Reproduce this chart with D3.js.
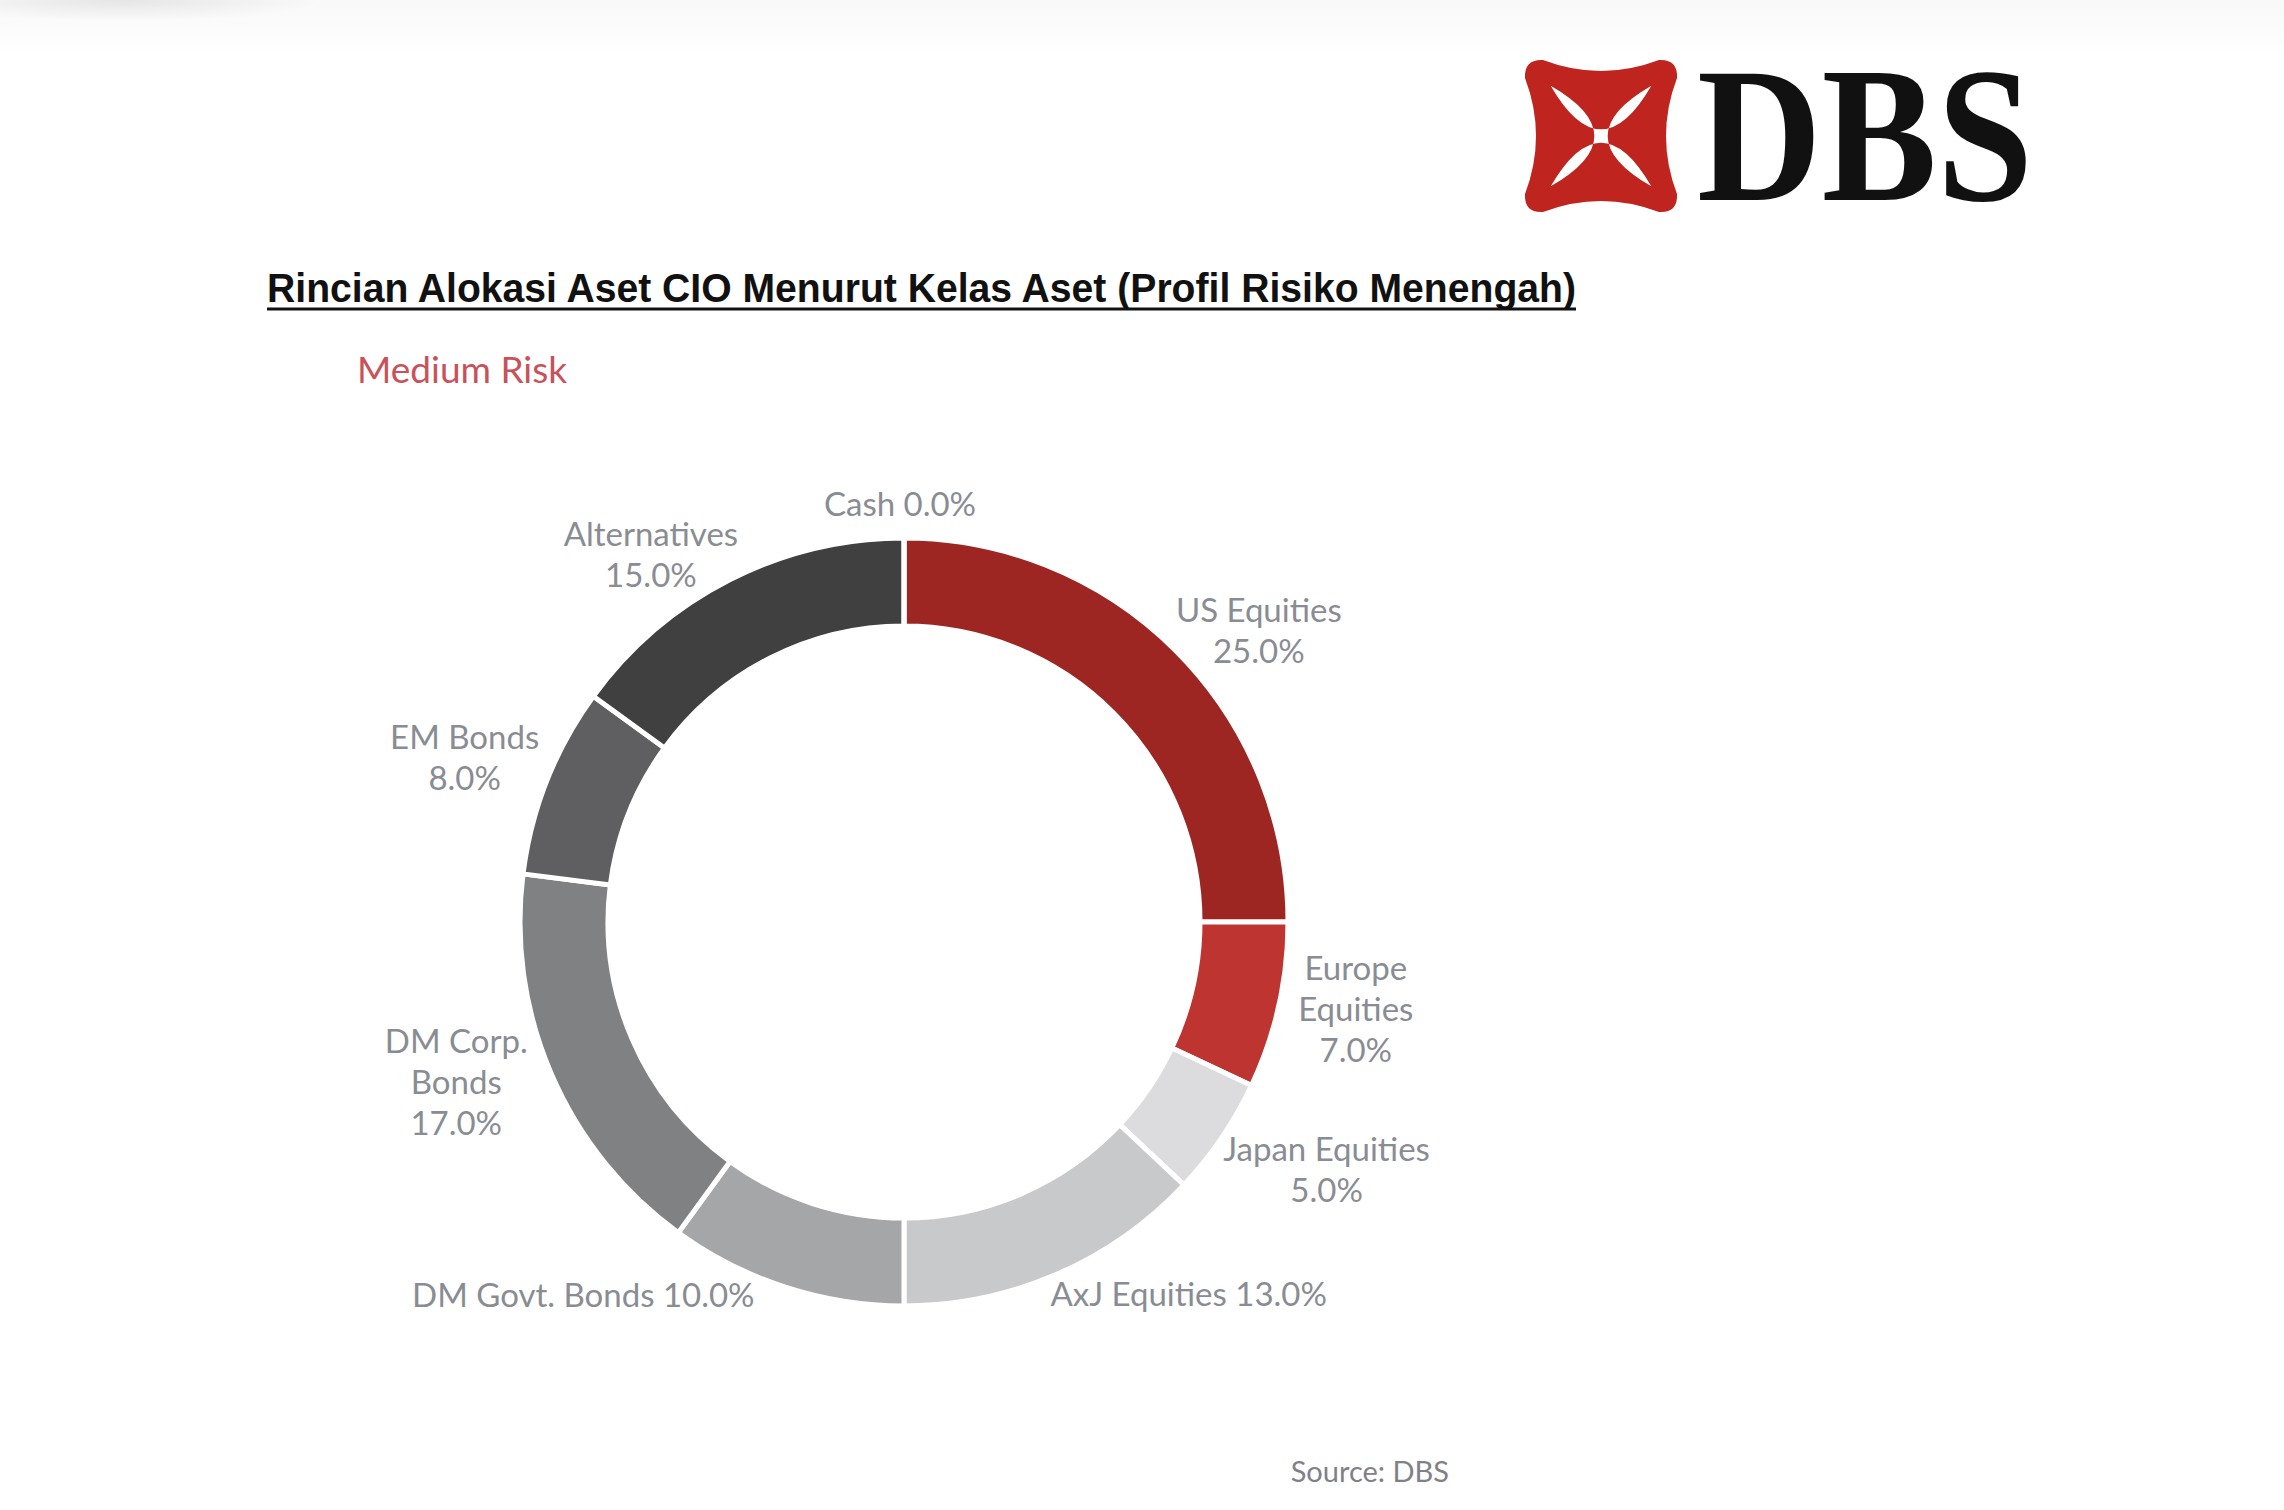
<!DOCTYPE html>
<html>
<head>
<meta charset="utf-8">
<script src="https://cdn.jsdelivr.net/npm/d3@7"></script>
<style>
  html, body { margin: 0; padding: 0; background: #fff; }
  svg { display: block; }
</style>
</head>
<body>
<svg id="chart" width="2284" height="1510"></svg>
<script>
// data
var categories = ["US Equities", "Europe Equities", "Japan Equities", "AxJ Equities",
    "DM Govt. Bonds", "DM Corp. Bonds", "EM Bonds", "Alternatives", "Cash"];
var values = [25, 7, 5, 13, 10, 17, 8, 15, 0];
var colors = ["#9d2623", "#bd3431", "#dcdcde", "#c8c9cb", "#a5a6a8", "#808183", "#5f5f61", "#404040", "#ffffff"];
// label rows, "%" marks where the value goes
var labelRows = [["US Equities", "%"], ["Europe", "Equities", "%"], ["Japan Equities", "%"],
    ["AxJ Equities %"], ["DM Govt. Bonds %"], ["DM Corp.", "Bonds", "%"], ["EM Bonds", "%"],
    ["Alternatives", "%"], ["Cash %"]];

var title = "Rincian Alokasi Aset CIO Menurut Kelas Aset (Profil Risiko Menengah)";
var subtitle = "Medium Risk";
var source = "Source: DBS";

var svg = d3.select("#chart");

// faint shadow on top of the photo
var defs = svg.append("defs");
var g1 = defs.append("linearGradient").attr("id", "topShade").attr("x1", 0).attr("y1", 0).attr("x2", 0).attr("y2", 1);
g1.append("stop").attr("offset", 0).attr("stop-color", "#000").attr("stop-opacity", 0.025);
g1.append("stop").attr("offset", 1).attr("stop-color", "#000").attr("stop-opacity", 0);
var g2 = defs.append("radialGradient").attr("id", "cornerShade").attr("cx", 0.45).attr("cy", 0).attr("r", 0.55);
g2.append("stop").attr("offset", 0).attr("stop-color", "#000").attr("stop-opacity", 0.08);
g2.append("stop").attr("offset", 1).attr("stop-color", "#000").attr("stop-opacity", 0);
svg.append("rect").attr("x", 0).attr("y", 0).attr("width", 2284).attr("height", 60).attr("fill", "url(#topShade)");
svg.append("rect").attr("x", -40).attr("y", 0).attr("width", 360).attr("height", 40).attr("fill", "url(#cornerShade)");

// DBS logo
var logo = svg.append("g").attr("transform", "translate(1601,136)");
var s = 74;
logo.append("path")
    .attr("fill", "#c0241f")
    .attr("d", [
        "M", -s + 16, -s - 2,
        "Q", 0, -s + 20, s - 16, -s - 2,
        "Q", s + 3, -s - 3, s + 2, -s + 16,
        "Q", s - 20, 0, s + 2, s - 16,
        "Q", s + 3, s + 3, s - 16, s + 2,
        "Q", 0, s - 20, -s + 16, s + 2,
        "Q", -s - 3, s + 3, -s - 2, s - 16,
        "Q", -s + 20, 0, -s - 2, -s + 16,
        "Q", -s - 3, -s - 3, -s + 16, -s - 2, "Z"].join(" "));
var a = 0.68 * s, c = 0.5 * s;
logo.append("path")
    .attr("fill", "#fff")
    .attr("d", [
        "M", -a, -a, "Q", 0, c, a, -a,
        "Q", -c, 0, a, a,
        "Q", 0, -c, -a, a,
        "Q", c, 0, -a, -a, "Z"].join(" "));
svg.append("text")
    .attr("x", 1697).attr("y", 200)
    .attr("textLength", 336).attr("lengthAdjust", "spacingAndGlyphs")
    .style("font-family", "'Liberation Serif', 'DejaVu Serif', serif")
    .style("font-weight", "bold").style("font-size", "192px").attr("fill", "#111")
    .text("DBS");

// title
svg.append("text")
    .attr("x", 267).attr("y", 302)
    .attr("textLength", 1309).attr("lengthAdjust", "spacingAndGlyphs")
    .style("font-family", "'Liberation Sans', Arial, sans-serif")
    .style("font-weight", "bold").style("font-size", "41px").attr("fill", "#111")
    .text(title);
svg.append("line")
    .attr("x1", 267).attr("x2", 1576).attr("y1", 309).attr("y2", 309)
    .attr("stroke", "#111").attr("stroke-width", 3);

svg.append("text")
    .attr("x", 357).attr("y", 383)
    .style("font-family", "Lato, sans-serif").style("font-size", "37px").attr("fill", "#c9525a")
    .text(subtitle);

// donut
var cx = 904, cy = 922;
var outerR = 384, innerR = 296, labelR = 465;
var pie = d3.pie().sort(null).value(function (d) { return d; });
var arcs = pie(values);
var arc = d3.arc().innerRadius(innerR).outerRadius(outerR);
var labelArc = d3.arc().innerRadius(labelR).outerRadius(labelR);

var chart = svg.append("g").attr("transform", "translate(" + cx + "," + cy + ")");
chart.selectAll("path.slice")
    .data(arcs)
    .enter()
    .append("path")
    .attr("class", "slice")
    .attr("d", arc)
    .attr("fill", function (d, i) { return colors[i]; })
    .attr("stroke", "#fff")
    .attr("stroke-width", 5)
    .attr("stroke-linejoin", "miter");

// hand nudges so labels sit where the reference has them
var nudge = {
    "US Equities": [26, 38], "Europe Equities": [-2, -14], "Japan Equities": [38, -13],
    "AxJ Equities": [100, -54], "DM Govt. Bonds": [-177, -69], "DM Corp. Bonds": [-21, -24],
    "EM Bonds": [-7, 7], "Alternatives": [-42, 47], "Cash": [-4, 47]
};
var lineH = 41;
var fmt = d3.format(".1f");

var labels = chart.selectAll("text.lbl")
    .data(arcs)
    .enter()
    .append("text")
    .attr("class", "lbl")
    .attr("text-anchor", "middle")
    .style("font-family", "Lato, sans-serif")
    .style("font-size", "33px")
    .attr("fill", "#898c93")
    .attr("transform", function (d, i) {
        var p = labelArc.centroid(d);
        var n = nudge[categories[i]];
        return "translate(" + (p[0] + n[0]) + "," + (p[1] + n[1]) + ")";
    });

labels.each(function (d, i) {
    var rows = labelRows[i];
    var t = d3.select(this);
    rows.forEach(function (r, k) {
        t.append("tspan")
            .attr("x", 0)
            .attr("y", (k - (rows.length - 1) / 2) * lineH)
            .attr("dy", "0.35em")
            .text(r.replace("%", fmt(values[i]) + "%"));
    });
});

svg.append("text")
    .attr("x", 1449).attr("y", 1482)
    .attr("text-anchor", "end")
    .style("font-family", "Lato, sans-serif").style("font-size", "29px").attr("fill", "#7f8187")
    .text(source);
</script>
</body>
</html>
